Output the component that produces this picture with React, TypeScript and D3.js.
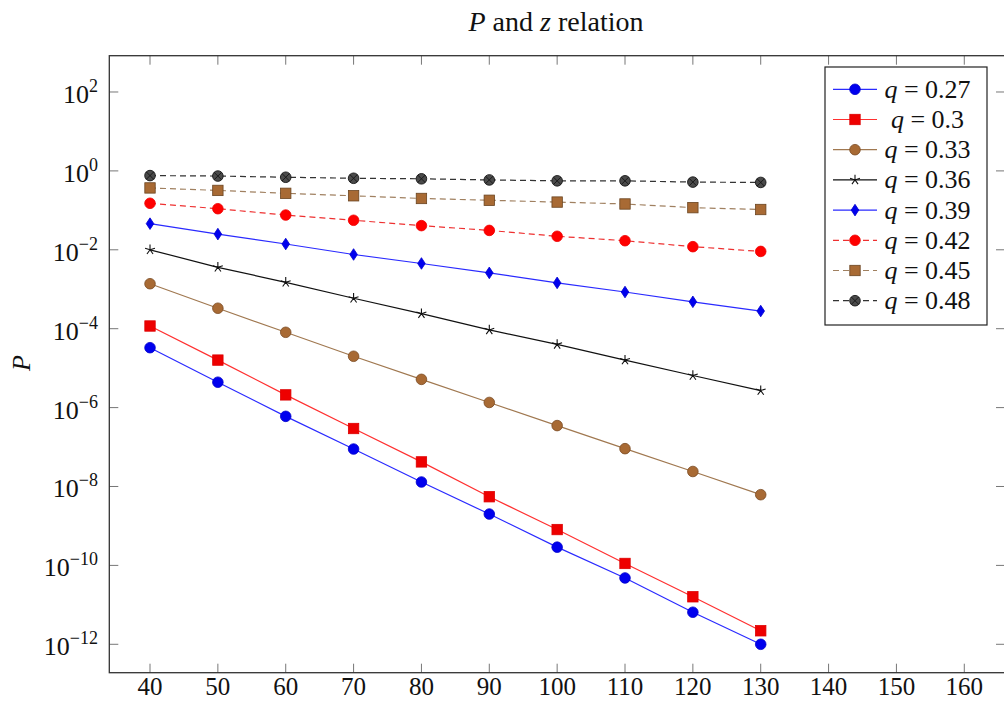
import React from "react";
import * as d3 from "d3";

const zValues = [40, 50, 60, 70, 80, 90, 100, 110, 120, 130];
const xTicks = [40, 50, 60, 70, 80, 90, 100, 110, 120, 130, 140, 150, 160];
const yTickExps = [2, 0, -2, -4, -6, -8, -10, -12];

const q027 = [3.3e-5, 4.4e-6, 6.0e-7, 8.9e-8, 1.3e-8, 2.0e-9, 2.9e-10, 4.8e-11, 6.5e-12, 1.0e-12];
const q030 = [1.17e-4, 1.6e-5, 2.1e-6, 2.95e-7, 4.2e-8, 5.5e-9, 8.1e-10, 1.12e-10, 1.6e-11, 2.2e-12];
const q033 = [1.38e-3, 3.3e-4, 8.1e-5, 2.0e-5, 5.2e-6, 1.35e-6, 3.5e-7, 9.1e-8, 2.4e-8, 6.2e-9];
const q036 = [1.0e-2, 3.6e-3, 1.5e-3, 5.9e-4, 2.4e-4, 9.3e-5, 4.0e-5, 1.6e-5, 6.5e-6, 2.7e-6];
const q039 = [4.6e-2, 2.5e-2, 1.4e-2, 7.6e-3, 4.5e-3, 2.6e-3, 1.45e-3, 8.5e-4, 4.8e-4, 2.8e-4];
const q042 = [0.151, 0.11, 0.076, 0.056, 0.041, 0.031, 0.022, 0.017, 0.012, 0.0091];
const q045 = [0.37, 0.32, 0.27, 0.234, 0.2, 0.18, 0.162, 0.145, 0.117, 0.105];
const q048 = [0.76, 0.74, 0.69, 0.65, 0.63, 0.59, 0.56, 0.56, 0.52, 0.51];

const qLabels = ["0.27", "0.3", "0.33", "0.36", "0.39", "0.42", "0.45", "0.48"];

type Style = { line: string; fill: string; stroke: string; mark: string; dashed: boolean };
const styles: Style[] = [
  { line: "#2a2aff", fill: "#0000ee", stroke: "#0000cc", mark: "circle", dashed: false },
  { line: "#ff3030", fill: "#ee0000", stroke: "#dd0000", mark: "square", dashed: false },
  { line: "#a07850", fill: "#a86a34", stroke: "#7a4a22", mark: "circle", dashed: false },
  { line: "#111111", fill: "#111111", stroke: "#111111", mark: "star", dashed: false },
  { line: "#2a2aff", fill: "#0000ee", stroke: "#0000cc", mark: "diamond", dashed: false },
  { line: "#ee3030", fill: "#ff0000", stroke: "#ee0000", mark: "circle", dashed: true },
  { line: "#a08060", fill: "#a86a34", stroke: "#6a4420", mark: "square", dashed: true },
  { line: "#333333", fill: "#4a4a4a", stroke: "#151515", mark: "otimes", dashed: true },
];
const seriesData = [q027, q030, q033, q036, q039, q042, q045, q048];

const FONT = "'Liberation Serif', 'Times New Roman', serif";

function Marker({ kind, x, y, s }: { kind: string; x: number; y: number; s: Style }) {
  if (kind === "circle") {
    return <circle cx={x} cy={y} r={5.3} fill={s.fill} stroke={s.stroke} strokeWidth={0.8} />;
  }
  if (kind === "square") {
    return <rect x={x - 5.2} y={y - 5.2} width={10.4} height={10.4} fill={s.fill} stroke={s.stroke} strokeWidth={0.8} />;
  }
  if (kind === "diamond") {
    return (
      <path
        d={`M${x},${y - 5.8}L${x + 3.8},${y}L${x},${y + 5.8}L${x - 3.8},${y}Z`}
        fill={s.fill}
        stroke={s.stroke}
        strokeWidth={0.8}
      />
    );
  }
  if (kind === "star") {
    const r = 5.2;
    const d = d3
      .range(5)
      .map((i) => {
        const a = -Math.PI / 2 + (i * 2 * Math.PI) / 5;
        return `M${x},${y}L${x + r * Math.cos(a)},${y + r * Math.sin(a)}`;
      })
      .join("");
    return <path d={d} stroke={s.stroke} strokeWidth={1.1} fill="none" />;
  }
  const r = 5.3;
  const k = r * 0.707;
  return (
    <g>
      <circle cx={x} cy={y} r={r} fill={s.fill} stroke={s.stroke} strokeWidth={0.9} />
      <path d={`M${x - k},${y - k}L${x + k},${y + k}M${x - k},${y + k}L${x + k},${y - k}`} stroke={s.stroke} strokeWidth={0.9} />
    </g>
  );
}

export default function App() {
  const left = 109.3;
  const right = 1005;
  const top = 55.7;
  const bottom = 672.7;

  const x = d3.scaleLinear().domain([34, 166]).range([left, right]);
  const y = d3.scaleLog().domain([Math.pow(10, -12.72), Math.pow(10, 2.92)]).range([bottom, top]);

  const line = d3
    .line<number>()
    .x((_, i) => x(zValues[i]))
    .y((v) => y(v));

  const tickLen = 9;
  const legendX = 825;
  const legendY = 67;
  const rowH = 30.2;

  return (
    <svg
      width={1004}
      height={702}
      style={{ position: "absolute", left: 0, top: 0, background: "#fff" }}
      fontFamily={FONT}
    >
      <rect x={0} y={0} width={1004} height={702} fill="#fff" />
      <text x={556} y={31} textAnchor="middle" fontSize={28} fill="#111">
        <tspan fontStyle="italic">P</tspan> and <tspan fontStyle="italic">z</tspan> relation
      </text>

      {xTicks.map((t) => (
        <g key={"xt" + t}>
          <line x1={x(t)} x2={x(t)} y1={bottom} y2={bottom - tickLen} stroke="#777" strokeWidth={1} />
          <line x1={x(t)} x2={x(t)} y1={top} y2={top + tickLen} stroke="#777" strokeWidth={1} />
          <text x={x(t)} y={695} textAnchor="middle" fontSize={25} fill="#111">
            {t}
          </text>
        </g>
      ))}
      {yTickExps.map((e) => {
        const yy = y(Math.pow(10, e));
        return (
          <g key={"yt" + e}>
            <line x1={left} x2={left + tickLen} y1={yy} y2={yy} stroke="#777" strokeWidth={1} />
            <line x1={right} x2={right - tickLen} y1={yy} y2={yy} stroke="#777" strokeWidth={1} />
            <text x={98} y={yy + 11} textAnchor="end" fontSize={26} fill="#111">
              <tspan>10</tspan>
              <tspan dy={-11} fontSize={18}>
                {e < 0 ? "\u2212" + Math.abs(e) : String(e)}
              </tspan>
            </text>
          </g>
        );
      })}

      {seriesData.map((data, si) => {
        const s = styles[si];
        return (
          <g key={"s" + si}>
            <path
              d={line(data) || ""}
              fill="none"
              stroke={s.line}
              strokeWidth={1.2}
              strokeDasharray={s.dashed ? "6,4" : undefined}
            />
            {data.map((v, i) => (
              <Marker key={i} kind={s.mark} x={x(zValues[i])} y={y(v)} s={s} />
            ))}
          </g>
        );
      })}

      <rect x={left} y={top} width={right - left} height={bottom - top} fill="none" stroke="#333" strokeWidth={1.3} />

      <text transform={`translate(30,363) rotate(-90)`} textAnchor="middle" fontSize={26} fontStyle="italic" fill="#111">
        P
      </text>

      <rect x={legendX} y={legendY} width={162} height={258} fill="#fff" stroke="#222" strokeWidth={1.2} />
      {qLabels.map((lab, i) => {
        const s = styles[i];
        const cy = legendY + 22.3 + i * rowH;
        return (
          <g key={"lg" + i}>
            <line
              x1={833}
              x2={877}
              y1={cy}
              y2={cy}
              stroke={s.line}
              strokeWidth={1.2}
              strokeDasharray={s.dashed ? "6,4" : undefined}
            />
            <Marker kind={s.mark} x={855} y={cy} s={s} />
            <text x={927.5} y={cy + 8.5} textAnchor="middle" fontSize={26} fill="#111">
              <tspan fontStyle="italic">q</tspan>
              {" = " + lab}
            </text>
          </g>
        );
      })}
    </svg>
  );
}
